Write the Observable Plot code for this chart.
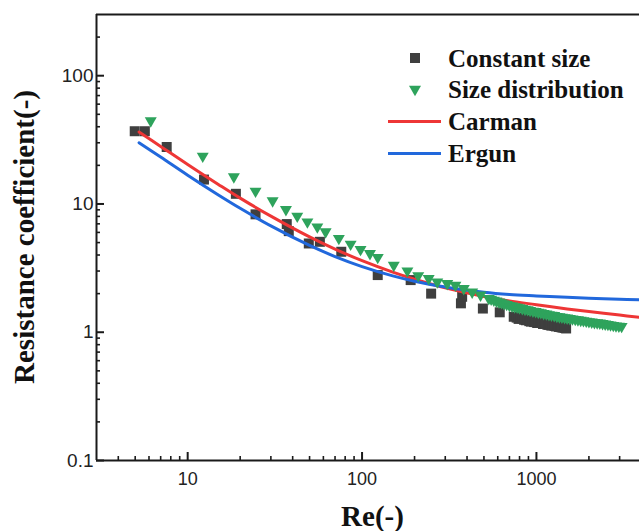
<!DOCTYPE html>
<html><head><meta charset="utf-8">
<script src="https://cdn.jsdelivr.net/npm/d3@7"></script>
<script src="https://cdn.jsdelivr.net/npm/@observablehq/plot@0.6"></script>
<style>
body{margin:0;background:#fff;}
#wrap{position:relative;width:639px;height:531px;}
#overlay{position:absolute;left:0;top:0;pointer-events:none;}
</style></head><body><div id="wrap"></div>
<script>
// Constant size (squares)
const constRe = [4.97, 5.68, 7.58, 12.4, 18.9, 24.5, 37, 38, 49.5, 57.3, 76, 123, 190, 249, 369, 375, 493, 616, 741,
  770, 790, 810, 830, 850, 870, 890, 910, 930, 950, 970, 990, 1010, 1030, 1050, 1070, 1090, 1110, 1130, 1150, 1170, 1190, 1210, 1230, 1250, 1270, 1295, 1320, 1345, 1370, 1395, 1420, 1450, 1480];
const constC = [36.9, 36.9, 27.8, 15.5, 12.0, 8.3, 6.97, 6.14, 4.92, 5.07, 4.24, 2.79, 2.55, 2.0, 1.68, 1.89, 1.53, 1.43, 1.32,
  1.30, 1.27, 1.29, 1.28, 1.25, 1.24, 1.25, 1.22, 1.21, 1.23, 1.20, 1.20, 1.18, 1.18, 1.19, 1.19, 1.16, 1.16, 1.17, 1.15, 1.14, 1.16, 1.13, 1.13, 1.14, 1.12, 1.11, 1.13, 1.10, 1.10, 1.09, 1.09, 1.08, 1.07];
// Size distribution (down triangles)
const distRe = [6.14, 12.2, 18.4, 24.5, 30.7, 36.6, 42.5, 48.6, 55.4, 61.8, 73.6, 86, 98, 111, 123, 152, 182, 210, 241, 270, 308, 343, 383, 428, 478, 533,
  550, 570, 590, 610, 630, 650, 675, 700, 725, 750, 775, 800, 830, 860, 890, 920, 955, 990, 1025, 1060, 1100, 1140, 1180, 1220, 1265, 1310, 1355, 1400, 1450, 1500,
  1555, 1610, 1670, 1730, 1795, 1860, 1930, 2000, 2075, 2150, 2230, 2310, 2395, 2480, 2570, 2660, 2760, 2860, 2970, 3080];
const distC = [44.5, 23.6, 16.3, 12.6, 10.6, 9.06, 8.03, 7.25, 6.62, 6.07, 5.39, 4.86, 4.42, 4.11, 3.83, 3.33, 3.01, 2.76, 2.62, 2.47, 2.40, 2.33, 2.19, 2.06, 1.95, 1.83,
  1.81, 1.78, 1.75, 1.72, 1.70, 1.67, 1.65, 1.62, 1.60, 1.58, 1.57, 1.55, 1.53, 1.51, 1.50, 1.48, 1.46, 1.45, 1.43, 1.42, 1.40, 1.39, 1.37, 1.36, 1.35, 1.33, 1.32, 1.31, 1.30, 1.29,
  1.28, 1.27, 1.26, 1.25, 1.24, 1.23, 1.22, 1.21, 1.20, 1.19, 1.185, 1.18, 1.17, 1.16, 1.15, 1.14, 1.13, 1.12, 1.115, 1.11];
// Model curves
const modelRe = [5.26, 7, 10, 15, 20, 30, 50, 70, 100, 150, 200, 300, 500, 700, 1000, 1500, 2000, 3000, 3900];
const carmanC = [36.4, 28.1, 20.3, 14.2, 11.1, 8.04, 5.54, 4.45, 3.61, 2.94, 2.59, 2.22, 1.90, 1.75, 1.64, 1.52, 1.45, 1.36, 1.31];
const ergunC = [30.0, 23.2, 16.75, 11.75, 9.25, 6.75, 4.75, 3.89, 3.25, 2.75, 2.50, 2.25, 2.05, 1.97, 1.92, 1.87, 1.84, 1.81, 1.79];
// Ticks
const yTicks = [0.1, 1, 10, 100];
const yMinor = [0.2,0.3,0.4,0.5,0.6,0.7,0.8,0.9, 2,3,4,5,6,7,8,9, 20,30,40,50,60,70,80,90, 200];
const xTicks = [10, 100, 1000];
const xMinor = [4,5,6,7,8,9, 20,30,40,50,60,70,80,90, 200,300,400,500,600,700,800,900, 2000,3000];
const xDomain = [3, 3900];
const yDomain = [0.1, 300];

const constant = constRe.map((re, i) => ({re, c: constC[i]}));
const dist = distRe.map((re, i) => ({re, c: distC[i]}));
const carman = modelRe.map((re, i) => ({re, c: carmanC[i]}));
const ergun = modelRe.map((re, i) => ({re, c: ergunC[i]}));

const COL = {sq: "#3f3f3f", tri: "#2ea35c", red: "#ee3636", blue: "#2168dc", axis: "#1a1a1a"};

const triDown = {draw(ctx, size) {
  const h = Math.sqrt(size / (3 * Math.sqrt(3)));
  const s3 = Math.sqrt(3);
  ctx.moveTo(0, 2 * h); ctx.lineTo(-s3 * h, -h); ctx.lineTo(s3 * h, -h); ctx.closePath();
}};

const W = 639, H = 531, mL = 96, mR = 0, mT = 14, mB = 71;
const pw = W - mL - mR, ph = H - mT - mB;

const plot = Plot.plot({
  width: W, height: H, marginLeft: mL, marginRight: mR, marginTop: mT, marginBottom: mB,
  x: {type: "log", domain: xDomain},
  y: {type: "log", domain: yDomain},
  style: {fontFamily: "'Liberation Sans', Arial, sans-serif", fontSize: "18px", color: "#222", background: "white"},
  marks: [
    Plot.dot(constant, {x: "re", y: "c", symbol: "square", r: 5.64, fill: COL.sq}),
    Plot.line(carman, {x: "re", y: "c", stroke: COL.red, strokeWidth: 3, curve: "catmull-rom"}),
    Plot.line(ergun, {x: "re", y: "c", stroke: COL.blue, strokeWidth: 3, curve: "catmull-rom"}),
    Plot.dot(dist, {x: "re", y: "c", symbol: triDown, r: 4.45, fill: COL.tri}),
    Plot.ruleX([xDomain[0]], {stroke: COL.axis, strokeWidth: 2}),
    Plot.ruleY([yDomain[0]], {stroke: COL.axis, strokeWidth: 2}),
    Plot.ruleY([yDomain[1]], {stroke: COL.axis, strokeWidth: 2}),
    Plot.tickY(yTicks, {y: d => d, insetRight: pw - 8, stroke: COL.axis, strokeWidth: 2}),
    Plot.tickY(yMinor, {y: d => d, insetRight: pw - 4, stroke: COL.axis, strokeWidth: 1.6}),
    Plot.tickX(xTicks, {x: d => d, insetTop: ph - 8, stroke: COL.axis, strokeWidth: 2}),
    Plot.tickX(xMinor, {x: d => d, insetTop: ph - 4, stroke: COL.axis, strokeWidth: 1.6}),
    Plot.axisX({ticks: xTicks, tickSize: 0, tickPadding: 12, tickFormat: d => String(d), label: null}),
    Plot.axisY({ticks: yTicks, tickSize: 0, tickPadding: 3, tickFormat: d => String(d), label: null, fontSize: 19})
  ]
});
const wrap = document.getElementById("wrap");
wrap.appendChild(plot);

// Legend + axis titles overlay
const legendItems = [
  {label: "Constant size", kind: "square", color: COL.sq},
  {label: "Size distribution", kind: "tri", color: COL.tri},
  {label: "Carman", kind: "line", color: COL.red},
  {label: "Ergun", kind: "line", color: COL.blue}
];
const ns = "http://www.w3.org/2000/svg";
const ov = document.createElementNS(ns, "svg");
ov.setAttribute("id", "overlay"); ov.setAttribute("width", W); ov.setAttribute("height", H);
function el(tag, attrs, text) {
  const e = document.createElementNS(ns, tag);
  for (const k in attrs) e.setAttribute(k, attrs[k]);
  if (text != null) e.textContent = text;
  ov.appendChild(e); return e;
}
const serif = "'Liberation Serif', 'Times New Roman', serif";
legendItems.forEach((it, i) => {
  const cy = 58 + i * 31.8;
  if (it.kind === "square") el("rect", {x: 410, y: cy - 5, width: 10, height: 10, fill: it.color});
  else if (it.kind === "tri") el("path", {d: `M409,${cy - 4} L421,${cy - 4} L415,${cy + 6.5} Z`, fill: it.color});
  else el("line", {x1: 388, x2: 441, y1: cy, y2: cy, stroke: it.color, "stroke-width": 3});
  el("text", {x: 448, y: cy + 8.6, "font-family": serif, "font-weight": "bold", "font-size": 25, fill: "#111"}, it.label);
});
el("text", {x: 372.5, y: 526, "text-anchor": "middle", "font-family": serif, "font-weight": "bold", "font-size": 29, fill: "#111"}, "Re(-)");
el("text", {transform: "translate(34,237) rotate(-90)", "text-anchor": "middle", "font-family": serif, "font-weight": "bold", "font-size": 29, fill: "#111"}, "Resistance coefficient(-)");
wrap.appendChild(ov);
</script></body></html>
